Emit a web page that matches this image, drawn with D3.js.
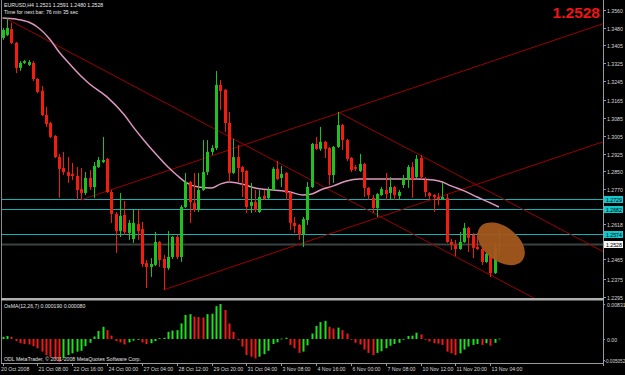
<!DOCTYPE html>
<html><head><meta charset="utf-8">
<script src="https://cdn.jsdelivr.net/npm/d3@7"></script>
<style>html,body{margin:0;padding:0;background:#000;}svg{display:block}</style>
</head><body>
<svg id="c" width="625" height="375"></svg>
<script>
// ---------- DATA ----------
const symbolTitle = "EURUSD,H4  1.2521 1.2591 1.2480 1.2528";
const timerText = "Time for next bar: 76 min 35 sec";
const indicatorTitle = "OsMA(12,26,7) 0.000190 0.000080";
const copyrightText = "ODL MetaTrader, © 2001-2008 MetaQuotes Software Corp.";
const lastPrice = 1.2528;

const opens = [1.3437,1.3450,1.3476,1.3415,1.3305,1.3327,1.3318,1.3327,1.3256,1.3203,
1.3097,1.3062,1.3005,1.2912,1.2864,1.2846,1.2838,1.2829,1.2771,1.2754,
1.2820,1.2780,1.2868,1.2890,1.2904,1.2758,1.2661,1.2586,1.2657,1.2578,
1.2551,1.2617,1.2595,1.2445,1.2428,1.2437,1.2538,1.2463,1.2423,1.2472,
1.2560,1.2472,1.2692,1.2802,1.2710,1.2683,1.2767,1.2846,1.2935,1.2952,
1.3230,1.3208,1.3062,1.2842,1.2912,1.2868,1.2851,1.2697,1.2714,1.2670,
1.2741,1.2732,1.2767,1.2860,1.2820,1.2842,1.2754,1.2622,1.2613,1.2573,
1.2635,1.2780,1.2970,1.2948,1.2979,1.2952,1.2833,1.2957,1.3053,1.2987,
1.2908,1.2868,1.2851,1.2882,1.2776,1.2732,1.2688,1.2745,1.2767,1.2754,
1.2780,1.2741,1.2789,1.2815,1.2868,1.2824,1.2908,1.2811,1.2754,1.2745,
1.2736,1.2727,1.2732,1.2538,1.2525,1.2507,1.2538,1.2600,1.2569,1.2516,
1.2507,1.2450,1.2481,1.2401,1.2521];
const highs = [1.3481,1.3525,1.3503,1.3419,1.3335,1.3340,1.3340,1.3335,1.3260,1.3225,
1.3133,1.3067,1.3009,1.2926,1.2935,1.2912,1.2886,1.2868,1.2864,1.2846,
1.2855,1.2890,1.2912,1.3001,1.2908,1.2767,1.2670,1.2754,1.2719,1.2635,
1.2679,1.2679,1.2626,1.2459,1.2467,1.2582,1.2542,1.2481,1.2586,1.2564,
1.2569,1.2701,1.2842,1.2807,1.2842,1.2842,1.2987,1.2987,1.2965,1.3291,
1.3252,1.3212,1.3111,1.2992,1.2965,1.2873,1.2855,1.2798,1.2767,1.2767,
1.2767,1.2780,1.2868,1.2895,1.2873,1.2846,1.2758,1.2648,1.2617,1.2648,
1.2802,1.2974,1.3001,1.3045,1.2983,1.2957,1.2961,1.3111,1.3058,1.2992,
1.2912,1.2877,1.2926,1.2886,1.2780,1.2745,1.2754,1.2780,1.2842,1.2824,
1.2785,1.2767,1.2833,1.2877,1.2890,1.2921,1.2921,1.2824,1.2758,1.2749,
1.2754,1.2798,1.2749,1.2551,1.2547,1.2582,1.2622,1.2604,1.2578,1.2578,
1.2516,1.2494,1.2503,1.2538,1.2591];
const lows = [1.3428,1.3445,1.3410,1.3282,1.3291,1.3322,1.3313,1.3247,1.3194,1.3093,
1.3045,1.2996,1.2908,1.2732,1.2833,1.2798,1.2811,1.2723,1.2723,1.2745,
1.2767,1.2732,1.2864,1.2886,1.2754,1.2622,1.2490,1.2560,1.2569,1.2547,
1.2534,1.2547,1.2428,1.2335,1.2384,1.2432,1.2428,1.2327,1.2415,1.2463,
1.2463,1.2450,1.2688,1.2622,1.2670,1.2670,1.2763,1.2833,1.2921,1.2943,
1.3119,1.3023,1.2802,1.2838,1.2802,1.2736,1.2666,1.2666,1.2670,1.2666,
1.2723,1.2727,1.2763,1.2811,1.2780,1.2723,1.2591,1.2578,1.2547,1.2516,
1.2613,1.2776,1.2943,1.2939,1.2908,1.2789,1.2798,1.2952,1.2943,1.2895,
1.2846,1.2851,1.2846,1.2736,1.2723,1.2666,1.2648,1.2741,1.2723,1.2723,
1.2723,1.2723,1.2776,1.2776,1.2732,1.2820,1.2815,1.2736,1.2723,1.2670,
1.2701,1.2723,1.2534,1.2503,1.2476,1.2503,1.2534,1.2494,1.2467,1.2503,
1.2437,1.2445,1.2384,1.2397,1.2480];
const closes = [1.3472,1.3481,1.3415,1.3305,1.3327,1.3335,1.3331,1.3256,1.3199,1.3097,
1.3058,1.3001,1.2912,1.2860,1.2846,1.2829,1.2829,1.2767,1.2754,1.2820,
1.2780,1.2873,1.2899,1.2899,1.2758,1.2661,1.2586,1.2653,1.2582,1.2622,
1.2622,1.2586,1.2441,1.2428,1.2441,1.2538,1.2459,1.2423,1.2472,1.2560,
1.2472,1.2692,1.2802,1.2714,1.2679,1.2767,1.2846,1.2935,1.2952,1.3230,
1.3203,1.3062,1.2842,1.2912,1.2864,1.2846,1.2692,1.2714,1.2679,1.2736,
1.2727,1.2767,1.2860,1.2815,1.2838,1.2754,1.2622,1.2608,1.2569,1.2639,
1.2780,1.2970,1.2948,1.2979,1.2948,1.2833,1.2957,1.3053,1.2987,1.2904,
1.2855,1.2860,1.2882,1.2776,1.2745,1.2688,1.2749,1.2771,1.2749,1.2780,
1.2745,1.2758,1.2820,1.2868,1.2815,1.2904,1.2824,1.2758,1.2741,1.2736,
1.2727,1.2736,1.2538,1.2525,1.2507,1.2538,1.2600,1.2556,1.2512,1.2507,
1.2450,1.2485,1.2401,1.2516,1.2528];

const osma = [0.0005,0.0007,0.0005,-0.0005,-0.0010,-0.0012,-0.0013,-0.0017,-0.0022,-0.0030,
-0.0038,-0.0043,-0.0047,-0.0054,-0.0046,-0.0038,-0.0034,-0.0030,-0.0028,-0.0017,
-0.0009,0.0006,0.0019,0.0029,0.0021,0.0008,-0.0005,-0.0008,-0.0013,-0.0008,
-0.0004,-0.0002,-0.0008,-0.0012,-0.0010,-0.0005,0.0002,0.0003,0.0017,0.0020,
0.0021,0.0037,0.0057,0.0059,0.0053,0.0052,0.0051,0.0059,0.0060,0.0078,
0.0083,0.0069,0.0037,0.0017,-0.0003,-0.0018,-0.0038,-0.0042,-0.0046,-0.0042,
-0.0036,-0.0028,-0.0012,-0.0008,0.0001,0.0003,-0.0014,-0.0022,-0.0033,-0.0030,
-0.0015,0.0013,0.0031,0.0040,0.0043,0.0029,0.0025,0.0027,0.0021,0.0013,
-0.0002,-0.0009,-0.0013,-0.0025,-0.0033,-0.0038,-0.0033,-0.0029,-0.0022,-0.0016,
-0.0012,-0.0009,-0.0001,0.0007,0.0008,0.0015,0.0011,-0.0002,-0.0006,-0.0010,
-0.0011,-0.0014,-0.0030,-0.0034,-0.0038,-0.0034,-0.0025,-0.0018,-0.0014,-0.0012,
-0.0014,-0.0010,-0.0016,-0.0009,0.0001];

const maIdx = [0,3,6,8,11,13,15,18,20,24,28,30,33,35,38,40,42,45,48,50,52,55,58,62,66,69,71,73,76,79,82,86,90,95,99,101,103,106,109,112,114];
const maVal = [1.3525,1.3520,1.3507,1.3485,1.3428,1.3375,1.3331,1.3269,1.3234,1.3177,1.3097,1.3045,1.2974,1.2930,1.2868,1.2833,1.2802,1.2780,1.2776,1.2793,1.2802,1.2793,1.2776,1.2767,1.2758,1.2745,1.2749,1.2767,1.2785,1.2807,1.2815,1.2815,1.2815,1.2815,1.2811,1.2802,1.2785,1.2763,1.2736,1.2710,1.2692];

const trendX1 = [0.6, 77, 18, 37];
const trendY1 = [1.3525, 1.3111, 1.2723, 1.2327];
const trendX2 = [122, 138, 138, 138];
const trendY2 = [1.2291, 1.2495, 1.3500, 1.2980];

const levels = [1.2729, 1.2682, 1.2574];
const levelLabels = ["1.2729", "1.2682", "1.2574"];

const priceTicks = [1.3560,1.3480,1.3405,1.3325,1.3245,1.3165,1.3085,1.3005,1.2925,1.2850,1.2770,1.2618,1.2465,1.2375,1.2295];
const timeLabels = ["20 Oct 2008","21 Oct 08:00","22 Oct 16:00","24 Oct 00:00","27 Oct 04:00","28 Oct 12:00","29 Oct 20:00","31 Oct 04:00","3 Nov 08:00","4 Nov 16:00","6 Nov 00:00","7 Nov 08:00","10 Nov 12:00","11 Nov 20:00","13 Nov 04:00"];
const timeIdx = [0,8,16,24,32,40,48,56,64,72,80,88,96,104,112];
const osmaTicks = [0.00831, 0, -0.005052];
const osmaTickLabels = ["0.00831", "0.00", "-0.005052"];

// ---------- LAYOUT ----------
const svg = d3.select("#c");
const W = 625, H = 375;
const plotR = 603, mainTop = 0, mainBot = 298, subTop = 301, subBot = 363;
const font = "'Liberation Sans', Arial, sans-serif";

const x = d3.scaleLinear().domain([0, 138]).range([2.5, 2.5 + 138 * 4.355]);
const y = d3.scaleLinear().domain([1.22912, 1.3604]).range([mainBot, mainTop]);
const yo = d3.scaleLinear().domain([0, 0.00831]).range([339, 304]);

svg.append("rect").attr("width", W).attr("height", H).attr("fill", "#000");

svg.append("defs").append("clipPath").attr("id", "mainClip")
  .append("rect").attr("x", 2).attr("y", 0).attr("width", plotR - 2).attr("height", mainBot);

const main = svg.append("g").attr("clip-path", "url(#mainClip)");

// horizontal levels
main.selectAll("line.lvl").data(levels).join("line")
  .attr("x1", 2).attr("x2", plotR).attr("y1", d => Math.round(y(d)) + 0.5).attr("y2", d => Math.round(y(d)) + 0.5)
  .attr("stroke", "#0fb2b6").attr("stroke-width", 1);
main.append("line").attr("x1", 2).attr("x2", plotR)
  .attr("y1", Math.round(y(lastPrice)) + 0.5).attr("y2", Math.round(y(lastPrice)) + 0.5)
  .attr("stroke", "#3a4242").attr("stroke-width", 2);

// trend lines
const tl = d3.range(trendX1.length);
main.selectAll("line.trend").data(tl).join("line")
  .attr("x1", i => x(trendX1[i])).attr("y1", i => y(trendY1[i]))
  .attr("x2", i => x(trendX2[i])).attr("y2", i => y(trendY2[i]))
  .attr("stroke", "#9c0000").attr("stroke-width", 1);

// moving average
main.append("path")
  .datum(d3.range(maIdx.length))
  .attr("d", d3.line().x(i => x(maIdx[i])).y(i => y(maVal[i])).curve(d3.curveMonotoneX))
  .attr("fill", "none").attr("stroke", "#de96c0").attr("stroke-width", 1.5);

// candles
const bull = "#1ec21e", bear = "#f41c0c";
const idx = d3.range(opens.length);
const cg = main.append("g");
cg.selectAll("line.wick").data(idx).join("line")
  .attr("x1", i => Math.round(x(i)) + 0.5).attr("x2", i => Math.round(x(i)) + 0.5)
  .attr("y1", i => y(highs[i])).attr("y2", i => y(lows[i]))
  .attr("stroke", i => closes[i] >= opens[i] ? bull : bear).attr("stroke-width", 1);
cg.selectAll("rect.body").data(idx).join("rect")
  .attr("x", i => Math.round(x(i)) - 1).attr("width", 3)
  .attr("y", i => y(Math.max(opens[i], closes[i])))
  .attr("height", i => Math.max(1, Math.abs(y(opens[i]) - y(closes[i]))))
  .attr("fill", i => closes[i] >= opens[i] ? bull : bear);

// orange marker ellipse
const ex = x(114.5), ey = y(1.2530);
svg.append("ellipse").attr("cx", 0).attr("cy", 0).attr("rx", 27).attr("ry", 17)
  .attr("transform", `translate(${ex},${ey}) rotate(38)`)
  .attr("fill", "#a3571e").attr("opacity", 0.95);

// window frames
svg.append("line").attr("x1", 1.5).attr("x2", 1.5).attr("y1", 0).attr("y2", subBot).attr("stroke", "#8a8a8a");
svg.append("line").attr("x1", plotR + 0.5).attr("x2", plotR + 0.5).attr("y1", 0).attr("y2", subBot + 3).attr("stroke", "#9a9a9a");
svg.append("rect").attr("x", 1).attr("y", mainBot).attr("width", plotR).attr("height", 2.5).attr("fill", "#b0b0b0");
svg.append("line").attr("x1", 1).attr("x2", plotR).attr("y1", subBot + 0.5).attr("y2", subBot + 0.5).attr("stroke", "#9a9a9a");

// price axis
const pa = svg.append("g").attr("font-family", font).attr("font-size", 5.2).attr("fill", "#d8d8d8");
priceTicks.forEach(p => {
  const yy = Math.round(y(p)) + 0.5;
  pa.append("line").attr("x1", plotR).attr("x2", plotR + 3).attr("y1", yy).attr("y2", yy).attr("stroke", "#9a9a9a");
  pa.append("text").attr("x", 607).attr("y", yy + 2).text(p.toFixed(4));
});

// level labels
levels.forEach((p, k) => {
  const yy = Math.round(y(p)) + 0.5;
  svg.append("rect").attr("x", 604).attr("y", yy - 3.5).attr("width", 19).attr("height", 7).attr("fill", "#12c8cc");
  svg.append("text").attr("x", 606).attr("y", yy + 2).attr("font-family", font).attr("font-size", 5.2).attr("fill", "#000").text(levelLabels[k]);
});
{
  const yy = Math.round(y(lastPrice)) + 0.5;
  svg.append("rect").attr("x", 604).attr("y", yy - 3.5).attr("width", 19).attr("height", 7).attr("fill", "#f4f4f4");
  svg.append("text").attr("x", 606).attr("y", yy + 2).attr("font-family", font).attr("font-size", 5.2).attr("fill", "#000").text(lastPrice.toFixed(4));
}

// big price
svg.append("text").attr("x", 600).attr("y", 18).attr("text-anchor", "end")
  .attr("font-family", font).attr("font-weight", "bold").attr("font-size", 15.5).attr("fill", "#ee1515")
  .text(lastPrice.toFixed(4));

// title texts
svg.append("text").attr("x", 4).attr("y", 7).attr("font-family", font).attr("font-size", 5.2).attr("fill", "#e8e8e8").text(symbolTitle);
svg.append("text").attr("x", 4).attr("y", 13.5).attr("font-family", font).attr("font-size", 5.2).attr("fill", "#e8e8e8").text(timerText);

// OsMA histogram
const sub = svg.append("g");
sub.selectAll("rect.h").data(idx).join("rect")
  .attr("x", i => Math.round(x(i)) - 0.5).attr("width", 2)
  .attr("y", i => Math.min(yo(osma[i]), yo(0)))
  .attr("height", i => Math.max(0.8, Math.abs(yo(osma[i]) - yo(0))))
  .attr("fill", i => (i === 0 || osma[i] >= osma[i - 1]) ? "#1ee01e" : "#ee1a1a");

svg.append("text").attr("x", 4).attr("y", 308).attr("font-family", font).attr("font-size", 5.2).attr("fill", "#e0e0e0").text(indicatorTitle);
svg.append("text").attr("x", 4).attr("y", 361).attr("font-family", font).attr("font-size", 5.2).attr("fill", "#e0e0e0").text(copyrightText);

const oa = svg.append("g").attr("font-family", font).attr("font-size", 5.2).attr("fill", "#d8d8d8");
osmaTicks.forEach((v, k) => {
  const yy = Math.round(yo(v)) + 0.5;
  oa.append("line").attr("x1", plotR).attr("x2", plotR + 2).attr("y1", yy).attr("y2", yy).attr("stroke", "#9a9a9a");
  oa.append("text").attr("x", k === 2 ? 604.5 : 607).attr("y", yy + 2)
    .attr("font-size", k === 2 ? 4.6 : 5.2).text(osmaTickLabels[k]);
});

// time axis
const ta = svg.append("g").attr("font-family", font).attr("font-size", 5.2).attr("fill", "#d8d8d8");
timeIdx.forEach((t, k) => {
  const xx = Math.round(x(t)) + 0.5;
  ta.append("line").attr("x1", xx).attr("x2", xx).attr("y1", subBot).attr("y2", subBot + 3).attr("stroke", "#9a9a9a");
  ta.append("text").attr("x", k === 0 ? 1 : xx + 1).attr("y", 371).text(timeLabels[k]);
});
</script>
</body></html>
